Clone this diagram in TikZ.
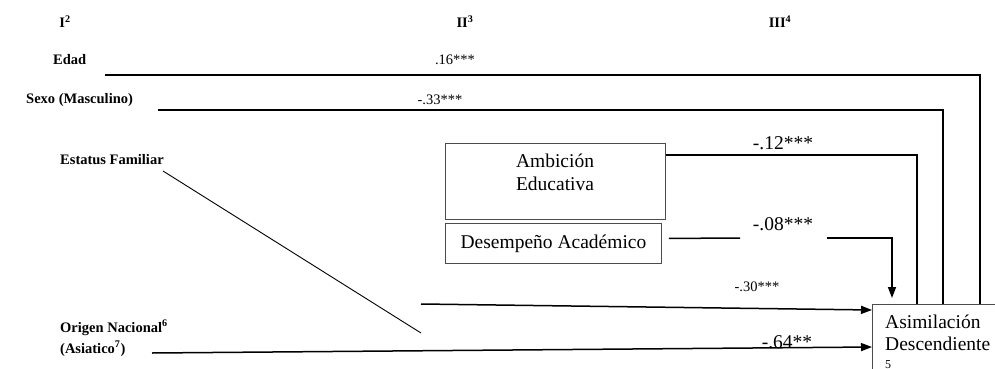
\documentclass[tikz,border=0pt]{standalone}
\usepackage{fontspec}
\setmainfont{Liberation Serif}
\usetikzlibrary{arrows.meta}
\begin{document}
\begin{tikzpicture}[x=1pt,y=-1pt,
  lbl/.style={font=\bfseries\fontsize{14.5}{17}\selectfont, inner sep=0pt},
  sm/.style={font=\fontsize{14.5}{17}\selectfont, inner sep=0pt},
  big/.style={font=\fontsize{19.5}{23}\selectfont, inner sep=0pt},
  conn/.style={line width=1.5pt},
  thinconn/.style={line width=0.9pt},
  boxst/.style={draw=black!70, line width=0.9pt, inner sep=0pt},
  tip/.style={-{Triangle[length=11pt,width=8pt]}}
]
\clip (0,0) rectangle (995,369);
\fill[white] (0,0) rectangle (995,369);

% column headers
\node[lbl] (h1) at (65,22) {I\textsuperscript{2}};
\node[lbl] (h2) at (465,22) {II\textsuperscript{3}};
\node[lbl] (h3) at (780,22) {III\textsuperscript{4}};

% predictors
\node[lbl,anchor=west] (edad) at (53,60) {Edad};
\node[lbl,anchor=west] (sexo) at (26,100) {Sexo (Masculino)};
\node[lbl,anchor=west] (estatus) at (60,160) {Estatus Familiar};
\node[lbl,anchor=base west] (origen1) at (60,332) {Origen Nacional\textsuperscript{6}};
\node[lbl,anchor=base west] (origen2) at (60,353) {(Asiatico\textsuperscript{7})};

% mediators
\node[boxst, anchor=north west, minimum width=220pt, minimum height=76pt] (amb) at (445,143) {};
\node[big, anchor=base] (amb1) at (555,167) {Ambición};
\node[big, anchor=base] (amb2) at (555,190) {Educativa};
\node[boxst, big, anchor=north west, minimum width=216pt, minimum height=40pt] (desem) at (445,223) {Desempeño Académico};

% outcome
\node[boxst, anchor=north west, minimum width=160pt, minimum height=90pt] (asim) at (872,304) {};
\node[big, anchor=base west] (asim1) at (885,328) {Asimilación};
\node[big, anchor=base west] (asim2) at (885,350) {Descendiente};
\node[font=\fontsize{12}{14}\selectfont, inner sep=0pt, anchor=base west] (asim3) at (885,368) {5};

% attachment points on the outcome box
\path (asim.north west) ++(20,0) coordinate (a08) ++(25,0) coordinate (a12)
      ++(26,0) coordinate (a33) ++(37,0) coordinate (a16);

% free line ends
\coordinate (edadS) at (105,75);
\coordinate (sexoS) at (158,110);
\coordinate (estS) at (163,171);
\coordinate (estE) at (421,333);
\coordinate (famS) at (421,304);
\coordinate (origS) at (152,353);
\coordinate (g1) at (740,238);
\coordinate (g2) at (827,238);

% connectors
\draw[conn] (edadS) -| (a16);
\draw[conn] (sexoS) -| (a33);
\draw[conn] ([yshift=-12pt]amb.north east) -| (a12);
\draw[conn] ([xshift=7pt,yshift=5pt]desem.east) -- (g1);
\draw[conn,tip] (g2) -| ([yshift=6pt]a08);
\draw[thinconn] (estS) -- (estE);
\draw[conn,tip] (famS) -- ([yshift=-6pt]asim.north west);
\draw[conn,tip] (origS) -- ([yshift=-43pt]asim.north west);

% coefficients
\node[sm] (l16) at (455,60) {.16***};
\node[sm] (l33) at (440,100) {-.33***};
\node[big] (l12) at (783,143) {-.12***};
\node[big] (l08) at (783,224) {-.08***};
\node[sm] (l30) at (757,287) {-.30***};
\node[big] (l64) at (787,342) {-.64**};
\end{tikzpicture}
\end{document}
